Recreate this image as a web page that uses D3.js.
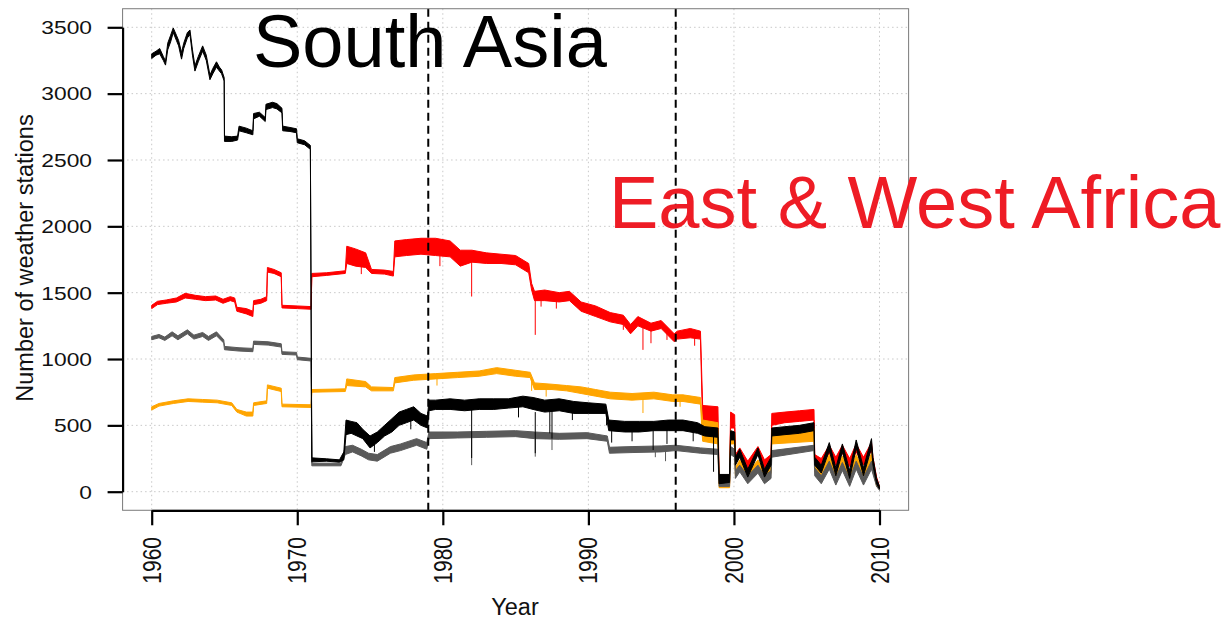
<!DOCTYPE html>
<html>
<head>
<meta charset="utf-8">
<script src="https://cdn.jsdelivr.net/npm/d3@7"></script>
<style>
  html, body { margin: 0; padding: 0; background: #fff; }
  svg { display: block; font-family: "Liberation Sans", Arial, sans-serif; }
</style>
</head>
<body>
<svg id="chart" width="1229" height="619"></svg>
<script>
// Daily counts of reporting weather stations, summarised as [year, low, high]
// envelopes of the daily values.
const blackCounts = [
  [1960.0,3265,3300],[1960.3,3290,3320],[1960.55,3300,3340],[1960.8,3250,3280],[1960.95,3215,3245],
  [1961.1,3330,3380],[1961.3,3390,3440],[1961.48,3460,3495],[1961.7,3400,3440],[1961.85,3360,3400],
  [1962.05,3260,3310],[1962.2,3340,3380],[1962.45,3420,3460],[1962.63,3445,3480],[1962.8,3290,3330],
  [1962.97,3170,3210],[1963.2,3240,3280],[1963.5,3320,3360],[1963.75,3250,3290],[1964.0,3105,3140],
  [1964.2,3150,3190],[1964.45,3200,3240],[1964.65,3170,3200],[1964.8,3150,3180],[1964.98,3095,3120],
  [1965.0,2640,2680],[1965.5,2640,2675],[1965.9,2650,2680],[1966.0,2720,2755],[1966.5,2705,2740],
  [1966.95,2690,2720],[1967.0,2810,2850],[1967.4,2830,2860],[1967.8,2790,2820],[1967.85,2880,2920],
  [1968.3,2895,2935],[1968.6,2885,2925],[1968.95,2855,2890],[1969.0,2720,2755],[1969.5,2715,2745],
  [1969.95,2705,2735],[1970.0,2630,2660],[1970.5,2615,2645],[1970.9,2580,2610],
  [1971.0,225,255],[1972.0,230,248],[1972.9,222,240],[1973.2,240,300],[1973.35,430,540],
  [1973.7,440,530],[1974.1,420,520],[1974.5,400,470],[1975.0,330,420],[1975.5,370,450],
  [1976.0,420,500],[1976.5,450,550],[1977.0,500,600],[1977.5,520,620],[1978.0,540,640],
  [1978.5,500,590],[1978.95,480,570],[1979.05,610,690],[1979.5,620,690],[1980.5,620,700],
  [1981.5,610,690],[1982.5,620,700],[1983.5,620,700],[1984.5,630,700],[1985.5,640,720],
  [1986.2,620,710],[1987.0,600,690],[1988.0,610,700],[1989.0,590,680],[1990.0,590,670],
  [1991.2,590,660],[1991.4,460,540],[1992.5,450,530],[1993.5,450,530],[1994.5,460,530],
  [1995.5,460,540],[1996.5,460,540],[1997.5,440,520],[1998.0,420,490],[1998.9,410,480],
  [1998.98,60,130],[1999.7,70,130],[1999.77,390,460],[2000.05,390,450],
  [2000.1,200,260],[2000.4,260,320],[2000.95,110,170],[2001.65,280,330],[2002.1,110,170],
  [2002.55,200,260],[2002.6,420,480],[2003.5,430,490],[2004.5,440,500],[2005.5,460,520],
  [2005.55,200,260],[2006.0,140,200],[2006.55,310,370],[2007.0,120,180],[2007.45,300,360],
  [2007.95,100,160],[2008.4,330,390],[2008.9,120,180],[2009.45,330,400],[2009.55,200,260],
  [2009.8,60,100],[2010.0,20,40]
];
const redCounts = [
  [1960.0,1380,1405],[1960.4,1410,1435],[1961.0,1420,1445],[1961.7,1430,1460],[1962.3,1460,1495],
  [1963.0,1450,1480],[1963.7,1440,1470],[1964.4,1445,1475],[1964.9,1420,1450],[1965.4,1440,1470],
  [1965.7,1430,1460],[1965.85,1360,1390],[1966.5,1340,1380],[1966.95,1320,1360],[1967.0,1410,1440],
  [1967.5,1420,1450],[1967.9,1440,1470],[1967.95,1655,1690],[1968.4,1645,1675],[1968.9,1620,1650],
  [1968.95,1385,1405],[1970.0,1380,1400],[1970.95,1375,1395],[1971.0,1620,1645],[1972.0,1630,1650],
  [1973.3,1645,1665],[1973.4,1720,1850],[1974.0,1700,1830],[1974.7,1690,1800],[1975.1,1645,1675],
  [1976.0,1640,1670],[1976.6,1625,1660],[1976.7,1770,1890],[1977.5,1780,1900],[1978.5,1790,1910],
  [1979.5,1780,1910],[1980.5,1770,1890],[1981.2,1700,1820],[1982.0,1730,1820],[1983.0,1720,1800],
  [1984.0,1720,1790],[1985.0,1710,1780],[1985.9,1650,1720],[1986.1,1520,1570],[1986.3,1440,1510],
  [1987.0,1440,1520],[1988.0,1430,1500],[1988.7,1440,1510],[1989.5,1360,1430],[1990.5,1320,1400],
  [1991.5,1280,1350],[1992.4,1260,1330],[1992.9,1190,1260],[1993.4,1250,1320],[1994.3,1210,1270],
  [1995.0,1230,1290],[1995.9,1130,1190],[1996.1,1150,1210],[1997.0,1160,1230],[1997.7,1150,1210],
  [1997.85,500,650],[1998.9,480,640],[1998.98,60,120],[1999.7,60,120],[1999.77,480,600],
  [2000.05,480,580],[2000.1,220,280],[2000.4,270,330],[2000.95,170,230],[2001.65,280,340],
  [2002.1,180,240],[2002.55,220,280],[2002.6,500,590],[2003.5,520,600],[2004.5,530,610],
  [2005.5,540,620],[2005.55,220,280],[2006.0,190,250],[2006.55,290,350],[2007.0,200,260],
  [2007.45,290,350],[2007.95,190,250],[2008.4,300,360],[2008.9,200,260],[2009.45,310,370],
  [2009.55,200,260],[2009.8,60,110],[2010.0,20,40]
];
const orangeCounts = [
  [1960.0,615,640],[1960.5,645,665],[1961.5,665,685],[1962.5,680,700],[1963.5,675,695],
  [1964.5,670,690],[1965.5,650,670],[1965.85,600,620],[1966.5,570,600],[1966.95,570,600],
  [1967.0,650,670],[1967.9,665,685],[1967.95,780,805],[1968.9,755,780],[1968.95,640,660],
  [1970.95,635,655],[1971.0,750,770],[1973.3,755,775],[1973.4,800,850],[1974.7,790,830],
  [1975.1,760,790],[1976.6,760,785],[1976.7,820,860],[1978.0,840,880],[1979.5,850,890],
  [1981.0,860,900],[1982.5,870,910],[1983.7,890,935],[1985.0,870,915],[1986.0,860,900],
  [1986.3,770,820],[1987.5,770,810],[1988.5,760,800],[1989.5,740,790],[1990.5,720,770],
  [1991.5,700,750],[1993.0,690,740],[1994.5,700,750],[1995.8,680,730],[1996.5,680,730],
  [1997.7,660,710],[1997.85,380,540],[1998.9,360,520],[1998.98,30,60],[1999.7,30,60],
  [1999.77,360,460],[2000.05,360,440],[2000.1,120,180],[2000.4,180,240],[2000.95,80,140],
  [2001.65,180,240],[2002.1,80,140],[2002.55,140,200],[2002.6,360,460],[2005.5,380,480],
  [2005.55,150,210],[2006.0,100,160],[2006.55,220,280],[2007.0,90,150],[2007.45,210,270],
  [2007.95,80,140],[2008.4,220,280],[2008.9,90,150],[2009.45,220,290],[2009.8,40,80],
  [2010.0,15,35]
];
const greyCounts = [
  [1960.0,1145,1170],[1960.5,1160,1185],[1960.9,1140,1165],[1961.4,1175,1205],[1961.8,1145,1175],
  [1962.45,1190,1220],[1962.9,1150,1180],[1963.5,1170,1200],[1963.9,1140,1170],[1964.45,1175,1205],
  [1964.95,1120,1145],[1965.0,1070,1095],[1966.0,1060,1085],[1966.95,1055,1080],[1967.0,1110,1135],
  [1968.0,1105,1130],[1968.9,1090,1115],[1968.95,1035,1055],[1969.95,1030,1050],[1970.0,995,1015],
  [1970.95,985,1005],[1971.0,195,215],[1973.0,195,215],[1973.3,280,340],[1973.8,300,350],
  [1974.4,270,320],[1974.9,240,290],[1975.5,230,280],[1976.4,290,340],[1977.1,310,360],
  [1978.2,350,400],[1978.9,320,370],[1979.05,400,450],[1981.0,405,450],[1983.0,410,455],
  [1985.0,415,460],[1986.3,400,450],[1988.0,395,440],[1989.9,400,445],[1991.3,380,420],
  [1991.45,290,335],[1993.0,295,340],[1995.0,300,345],[1996.0,310,350],[1997.7,290,330],
  [1998.9,280,320],[1998.98,40,80],[1999.7,40,80],[1999.77,280,340],[2000.05,260,320],
  [2000.1,100,160],[2000.4,150,200],[2000.95,60,120],[2001.65,140,200],[2002.1,60,120],
  [2002.55,100,160],[2002.6,260,310],[2005.5,310,350],[2005.55,120,180],[2006.0,60,120],
  [2006.55,170,230],[2007.0,50,110],[2007.45,160,220],[2007.95,40,100],[2008.4,170,230],
  [2008.9,50,110],[2009.45,170,230],[2009.8,40,80],[2010.0,10,30]
];
// Single-day dips: [year, top, bottom]
const blackDips = [
  [1975.3,400,300],[1977.8,560,470],[1981.98,640,254],[1985.2,650,560],[1986.35,600,290],
  [1987.35,620,440],[1987.5,620,400],[1988.9,620,540],[1991.25,600,500],[1991.6,470,370],
  [1993.0,460,380],[1994.45,470,314],[1995.4,470,360],[1997.2,460,380],[1998.6,430,150]
];
const redDips = [
  [1974.4,1720,1640],[1979.8,1800,1700],[1981.98,1760,1471],[1986.35,1480,1182],[1986.75,1450,1395],
  [1987.8,1440,1380],[1989.4,1400,1370],[1992.4,1280,1220],[1993.75,1250,1069],[1994.3,1220,1119],
  [1995.4,1240,1144],[1997.3,1170,1100]
];
const orangeDips = [[1979.6,860,800],[1986.1,860,760],[1987.1,780,717],[1993.75,700,593],[1996.3,690,640]];
const greyDips = [[1981.98,420,200],[1986.35,400,264],[1987.5,400,314],[1994.6,310,260],[1995.3,310,230]];

const yearTicks = [1960, 1970, 1980, 1990, 2000, 2010];
const countTicks = [0, 500, 1000, 1500, 2000, 2500, 3000, 3500];
const markerYears = [1979, 1996];

const svg = d3.select("#chart");
const x = d3.scaleLinear().domain([1960, 2010]).range([151.7, 879.5]);
const y = d3.scaleLinear().domain([0, 3500]).range([491.7, 27.3]);
const box = { x0: x(1958), x1: x(2012), y0: y(3640), y1: y(-140) };
const labelStretch = 1.2;

// grid
const grid = svg.append("g").attr("stroke", "#c8c8c8").attr("stroke-width", 1).attr("stroke-dasharray", "1.5,3");
grid.selectAll("line.h").data(countTicks).join("line")
  .attr("x1", box.x0).attr("x2", box.x1).attr("y1", d => y(d)).attr("y2", d => y(d));
grid.selectAll("line.v").data(yearTicks).join("line")
  .attr("y1", box.y0).attr("y2", box.y1).attr("x1", d => x(d)).attr("x2", d => x(d));

// series envelopes
const band = d3.area().x(d => x(d[0])).y0(d => y(d[1])).y1(d => y(d[2]));
const series = [
  { data: redCounts, dips: redDips, color: "#ff0000" },
  { data: orangeCounts, dips: orangeDips, color: "#ffa500" },
  { data: greyCounts, dips: greyDips, color: "#5a5a5a" },
  { data: blackCounts, dips: blackDips, color: "#000000" }
];
series.forEach(s => {
  svg.append("path").datum(s.data).attr("d", band)
    .attr("fill", s.color).attr("stroke", s.color).attr("stroke-width", 1).attr("stroke-linejoin", "round");
  svg.append("g").selectAll("line").data(s.dips).join("line")
    .attr("x1", d => x(d[0])).attr("x2", d => x(d[0]))
    .attr("y1", d => y(d[1])).attr("y2", d => y(d[2]))
    .attr("stroke", s.color).attr("stroke-width", 1);
});

// dashed markers
svg.append("g").selectAll("line").data(markerYears).join("line")
  .attr("x1", d => x(d)).attr("x2", d => x(d)).attr("y1", box.y0).attr("y2", box.y1)
  .attr("stroke", "#000").attr("stroke-width", 2).attr("stroke-dasharray", "8,5");

// box
svg.append("rect").attr("x", box.x0).attr("y", box.y0)
  .attr("width", box.x1 - box.x0).attr("height", box.y1 - box.y0)
  .attr("fill", "none").attr("stroke", "#7a7a7a").attr("stroke-width", 1);

// axes
const yAxis = svg.append("g").attr("transform", `translate(${box.x0},0)`)
  .call(d3.axisLeft(y).tickValues(countTicks).tickSize(15).tickSizeOuter(0).tickFormat(""));
const xAxis = svg.append("g").attr("transform", `translate(0,${box.y1})`)
  .call(d3.axisBottom(x).tickValues(yearTicks).tickSize(15).tickSizeOuter(0).tickFormat(""));
[yAxis, xAxis].forEach(a => {
  a.selectAll("path, line").attr("stroke", "#000").attr("stroke-width", 2.2);
});

svg.append("g").selectAll("text").data(countTicks).join("text")
  .attr("transform", d => `translate(92,${y(d)}) scale(${labelStretch},1)`)
  .attr("text-anchor", "end").attr("dy", "0.36em")
  .attr("font-size", 19).attr("fill", "#111").text(d => d);
svg.append("g").selectAll("text").data(yearTicks).join("text")
  .attr("transform", d => `translate(${x(d)},537) scale(${labelStretch},1) rotate(-90)`)
  .attr("text-anchor", "end").attr("dy", "0.36em")
  .attr("font-size", 21).attr("fill", "#111").text(d => d);

svg.append("text").attr("transform", "translate(25,258) rotate(-90)")
  .attr("text-anchor", "middle").attr("dy", "0.36em")
  .attr("font-size", 23.5).attr("fill", "#111").text("Number of weather stations");
svg.append("text").attr("x", 515).attr("y", 615)
  .attr("text-anchor", "middle").attr("font-size", 23.5).attr("fill", "#111").text("Year");

// region labels
svg.append("text").attr("x", 253).attr("y", 67).attr("font-size", 74).attr("fill", "#000").text("South Asia");
svg.append("text").attr("x", 609).attr("y", 228).attr("font-size", 74).attr("fill", "#ee1c25").text("East & West Africa");
</script>
</body>
</html>
